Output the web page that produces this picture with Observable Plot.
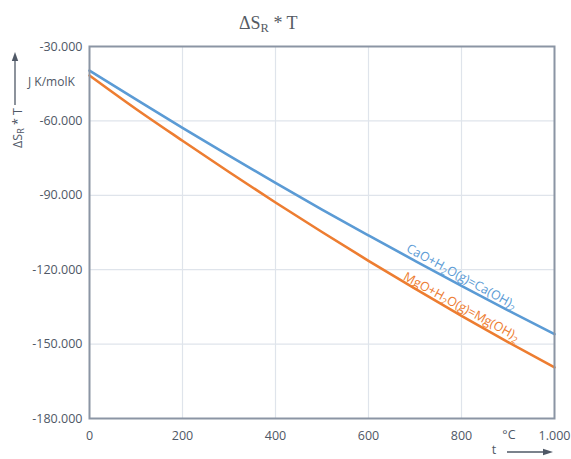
<!DOCTYPE html>
<html>
<head>
<meta charset="utf-8">
<script src="https://cdn.jsdelivr.net/npm/d3@7"></script>
<script src="https://cdn.jsdelivr.net/npm/@observablehq/plot@0.6"></script>
<style>
  html, body { margin: 0; padding: 0; background: #fff; }
  #wrap { position: relative; width: 571px; height: 459px; overflow: hidden; }
  #title { position: relative; height: 36px; font-family: "Liberation Serif", "DejaVu Serif", serif; font-size: 18px; color: #555b63; }
  #title span { position: absolute; left: 239px; top: 13px; white-space: nowrap; }
  #title sub { font-size: 12.5px; vertical-align: -3px; line-height: 0; }
</style>
</head>
<body>
<div id="wrap">
  <div id="title"><span>ΔS<sub>R</sub> * T</span></div>
  <div id="chart"></div>
</div>
<script>
// ---- data ----
const temps = [0, 100, 200, 300, 400, 500, 600, 700, 800, 900, 1000];
const caoValues = [-39700, -51300, -62800, -74000, -85000, -95800, -106200, -116400, -126500, -136400, -146000];
const mgoValues = [-41700, -55200, -68000, -80600, -92900, -104800, -116400, -127600, -138600, -149200, -159400];
const seriesNames = ["CaO+H_2O(g)=Ca(OH)_2", "MgO+H_2O(g)=Mg(OH)_2"];
const seriesColors = ["#5b9bd5", "#ed7d31"];
const xTicks = [0, 200, 400, 600, 800, 1000];
const yTicks = [-180000, -150000, -120000, -90000, -60000, -30000];
const labelAt = [800, 800];
const xUnit = "°C";
const xName = "t";
const yUnit = "J K/molK";

const locale = d3.formatLocale({decimal: ",", thousands: ".", grouping: [3], currency: ["", "€"], minus: "-"});
const fmt = locale.format(",");

const rows = [];
temps.forEach((t, i) => {
  rows.push({t, v: caoValues[i], s: seriesNames[0]});
  rows.push({t, v: mgoValues[i], s: seriesNames[1]});
});
const labelRows = seriesNames.map((s, i) => ({
  s, t: labelAt[i], v: (i === 0 ? caoValues : mgoValues)[temps.indexOf(labelAt[i])], c: seriesColors[i]
}));

const ink = "#4f5866";
const font = "'Open Sans', 'DejaVu Sans', sans-serif";

const svg = Plot.plot({
  width: 571,
  height: 423,
  marginTop: 10,
  marginBottom: 41,
  marginLeft: 89,
  marginRight: 17,
  style: {fontFamily: font, fontSize: "12.5px", color: ink, background: "#fff"},
  x: {domain: [0, 1000], ticks: xTicks, tickFormat: fmt, tickSize: 0, tickPadding: 13, label: null},
  y: {domain: [-180000, -30000], ticks: yTicks, tickFormat: fmt, tickSize: 0, tickPadding: 7, label: null},
  color: {domain: seriesNames, range: seriesColors},
  marks: [
    Plot.ruleX(xTicks, {stroke: "#dfe4eb", strokeWidth: 1.2}),
    Plot.ruleY(yTicks, {stroke: "#dfe4eb", strokeWidth: 1.2}),
    Plot.line(rows, {x: "t", y: "v", z: "s", stroke: "s", strokeWidth: 2.6, curve: "monotone-x"}),
    Plot.frame({stroke: "#8b95a4", strokeWidth: 2}),
    Plot.text(labelRows, {x: "t", y: "v", text: "s", fill: "c", rotate: 28.5, dy: -9, fontSize: 12.5, textAnchor: "middle", className: "line-label"}),
    Plot.text([xUnit], {x: 902, frameAnchor: "bottom", dy: 20, text: d => d, fill: ink, fontSize: 12.5})
  ]
});
document.getElementById("chart").appendChild(svg);

// subscripts in the line labels
d3.select(svg).selectAll(".line-label text").each(function() {
  const el = d3.select(this);
  const parts = el.text().split(/_(\w)/);
  el.text(null);
  let shifted = false;
  parts.forEach((p, i) => {
    if (!p) return;
    const ts = el.append("tspan").text(p);
    if (i % 2 === 1) {
      ts.attr("dy", "3").attr("font-size", "9px");
      shifted = true;
    } else if (shifted) {
      ts.attr("dy", "-3");
      shifted = false;
    }
  });
});

const root = d3.select(svg);
// y axis name with subscript, rotated
const yName = root.append("text")
  .attr("transform", "translate(19,92) rotate(-90)")
  .attr("text-anchor", "middle")
  .attr("dominant-baseline", "middle")
  .attr("fill", ink)
  .attr("font-size", "12.5px")
  .attr("font-family", font);
yName.append("tspan").text("ΔS");
yName.append("tspan").text("R").attr("dy", "3").attr("font-size", "9px");
yName.append("tspan").text(" * T").attr("dy", "-3");

// y axis arrow
root.append("line").attr("x1", 15).attr("x2", 15).attr("y1", 69).attr("y2", 24).attr("stroke", ink).attr("stroke-width", 1.3);
root.append("path").attr("d", "M15,16 L11.8,25 L18.2,25 Z").attr("fill", ink);

// y unit
root.append("text").attr("x", 28).attr("y", 47).attr("dominant-baseline", "middle").attr("text-anchor", "start")
  .attr("fill", ink).attr("font-size", "12px").attr("font-family", font).text(yUnit);

// x name and arrow
root.append("text").attr("x", 494).attr("y", 415).attr("dominant-baseline", "middle").attr("text-anchor", "middle")
  .attr("fill", ink).attr("font-size", "12.5px").attr("font-family", font).text(xName);
root.append("line").attr("x1", 507).attr("x2", 545).attr("y1", 416).attr("y2", 416).attr("stroke", ink).attr("stroke-width", 1.3);
root.append("path").attr("d", "M553,416 L543,412.8 L543,419.2 Z").attr("fill", ink);
</script>
</body>
</html>
